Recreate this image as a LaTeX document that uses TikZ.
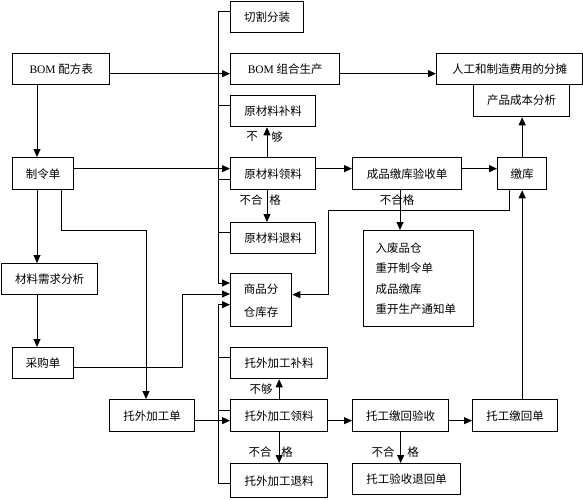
\documentclass[tikz,border=0pt]{standalone}
\usepackage{fontspec}
\setmainfont{Liberation Serif}
\newfontfamily\cjk{Noto Sans CJK SC}
\usepackage{tikz}
\usetikzlibrary{arrows.meta}

\begin{document}
\begin{tikzpicture}[
  x=1pt,y=-1pt,
  every node/.style={font=\cjk\fontsize{11.5}{13}\selectfont},
  bx/.style={draw,line width=1.3pt,anchor=north west,minimum height=31pt,
             inner sep=2pt,fill=white},
  ln/.style={line width=0.9pt},
  ar/.style={line width=0.9pt,-{Triangle[length=8pt,width=7pt]}},
  lb/.style={inner sep=0pt}]

  \useasboundingbox (0,0) rectangle (583,500);

  % --- left column: BOM, order, MRP, purchase
  \node[bx,minimum width=97pt] (bomtab) at (12,53)  {\textrm{BOM} 配方表};
  \node[bx,minimum width=61pt,minimum height=32pt] (order) at (12,157) {制令单};
  \node[bx,minimum width=96pt] (mrp)    at (1,263)  {材料需求分析};
  \node[bx,minimum width=61pt] (purch)  at (12,347) {采购单};
  \node[bx,minimum width=85pt,minimum height=32pt] (osorder) at (109,399) {托外加工单};

  % --- middle column, all hanging off one bus
  \node[bx,minimum width=73pt]  (cut)     at (230,1)   {切割分装};
  \node[bx,minimum width=109pt] (bomprod) at (230,53)  {\textrm{BOM} 组合生产};
  \node[bx,minimum width=85pt]  (rawadd)  at (230,95)  {原材料补料};
  \node[bx,minimum width=85pt,minimum height=32pt] (rawpick) at (230,157) {原材料领料};
  \node[bx,minimum width=85pt]  (rawret)  at (230,222) {原材料退料};
  \node[bx,minimum width=61pt,minimum height=53pt,align=center,
        font=\cjk\fontsize{11.5}{23}\selectfont] (stock) at (230,273) {商品分\\仓库存};
  \node[bx,minimum width=97pt]  (osadd)   at (230,347) {托外加工补料};
  \node[bx,minimum width=97pt,minimum height=32pt] (ospick) at (230,399) {托外加工领料};
  \node[bx,minimum width=97pt,minimum height=34pt] (osret)  at (230,463) {托外加工退料};

  % --- right part
  \node[bx,minimum width=109pt,minimum height=32pt] (fgcheck) at (352,157) {成品缴库验收单};
  \node[bx,minimum width=49pt,minimum height=32pt]  (store)   at (497,157) {缴库};
  \node[bx,minimum width=146pt] (labour) at (436,53) {人工和制造费用的分摊};
  \node[bx,minimum width=96pt,minimum height=32pt] (cost) at (473,84) {产品成本分析};
  \node[bx,minimum width=110pt,minimum height=96pt,text width=86pt,align=left,
        font=\cjk\fontsize{11.5}{20.5}\selectfont] (reject) at (363,230)
       {入废品仓\\重开制令单\\成品缴库\\重开生产通知单};
  \node[bx,minimum width=96pt,minimum height=32pt]  (oscheck)  at (352,399) {托工缴回验收};
  \node[bx,minimum width=85pt,minimum height=32pt]  (osreturn) at (472,399) {托工缴回单};
  \node[bx,minimum width=108pt] (osrej) at (352,463) {托工验收退回单};

  % --- condition labels next to the short arrows
  \node[lb] (nf1a) at (252,137) {不};
  \node[lb] (nf1b) at (277,137) {够};
  \node[lb] (ng1a) at (251,200) {不合};
  \node[lb] (ng1b) at (275,200) {格};
  \node[lb] (ng2)  at (397,200) {不合格};
  \node[lb] (nf2)  at (261,389) {不够};
  \node[lb] (ng3a) at (260,452) {不合};
  \node[lb] (ng3b) at (287,452) {格};
  \node[lb] (ng4a) at (383,452) {不合};
  \node[lb] (ng4b) at (413,452) {格};

  % --- helper points
  \coordinate (lsp) at (37,0);     % left spine
  \coordinate (bt)  at (218,11);   % bus top
  \coordinate (bm)  at (218,283);  % bus into stock
  \coordinate (bb)  at (218,483);  % bus bottom
  \coordinate (t1)  at (218,105);
  \coordinate (t2)  at (218,179);
  \coordinate (t3)  at (218,232);
  \coordinate (t4)  at (218,357);
  \coordinate (t5)  at (218,410);
  \coordinate (oj1) at (61,230);
  \coordinate (oj2) at (146,230);
  \coordinate (pj)  at (182,294);
  \coordinate (rj1) at (509,210);
  \coordinate (rj2) at (328,210);
  \coordinate (rx)  at (267,0);
  \coordinate (fx)  at (400,0);

  % --- left column
  \draw[ar] (lsp |- bomtab.south) -- (lsp |- order.north);
  \draw[ar] (lsp |- order.south)  -- (lsp |- mrp.north);
  \draw[ar] (lsp |- mrp.south)    -- (lsp |- purch.north);
  \draw[ar] (oj1 |- order.south) -- (oj1) -- (oj2) -- (oj2 |- osorder.north);
  \draw[ar] ([yshift=-4.5pt]purch.east) -| (pj) -- (pj -| stock.west);

  % --- bus
  \draw[ar] (bt -| cut.west) -- (bt) -- (bm) -- (bm -| stock.west);
  \draw[ar] (bb -| osret.west) -- (bb) |- ([yshift=-4.5pt]stock.west);
  \draw[ln] (t1) -- (t1 -| rawadd.west);
  \draw[ln] (t2) -- (t2 -| rawpick.west);
  \draw[ln] (t3) -- (t3 -| rawret.west);
  \draw[ln] (t4) -- (t4 -| osadd.west);
  \draw[ln] (t5) -- (t5 -| ospick.west);

  % --- horizontal flow
  \draw[ar] ([yshift=-4.5pt]bomtab.east)  -- ([yshift=-4.5pt]bomprod.west);
  \draw[ar] ([yshift=-4.5pt]bomprod.east) -- ([yshift=-4.5pt]labour.west);
  \draw[ar] ([yshift=5pt]order.east)      -- ([yshift=5pt]rawpick.west);
  \draw[ar] ([yshift=5pt]rawpick.east)    -- ([yshift=5pt]fgcheck.west);
  \draw[ar] ([yshift=5pt]fgcheck.east)    -- ([yshift=5pt]store.west);
  \draw[ar] ([yshift=-5pt]osorder.east)   -- ([yshift=-5pt]ospick.west);
  \draw[ar] ([yshift=-5pt]ospick.east)    -- ([yshift=-5pt]oscheck.west);
  \draw[ar] ([yshift=-5pt]oscheck.east)   -- ([yshift=-5pt]osreturn.west);

  % --- short up/down arrows
  \draw[ar] (rx |- rawpick.north) -- (rx |- rawadd.south);   % not enough
  \draw[ar] (rx |- rawpick.south) -- (rx |- rawret.north);   % rejected
  \draw[ar] (ospick.north) -- (osadd.south);
  \draw[ar] (ospick.south) -- (osret.north);
  \draw[ar] (fx |- fgcheck.south) -- (fx |- reject.north);
  \draw[ar] (oscheck.south) -- (oscheck.south |- osrej.north);

  % --- right side
  \draw[ar] (store.north) -- (store.north |- cost.south);
  \draw[ar] (store.south |- osreturn.north) -- (store.south);
  \draw[ar] (rj1 |- store.south) -- (rj1) -- (rj2) |- ([yshift=5.5pt]stock.east);
\end{tikzpicture}
\end{document}
